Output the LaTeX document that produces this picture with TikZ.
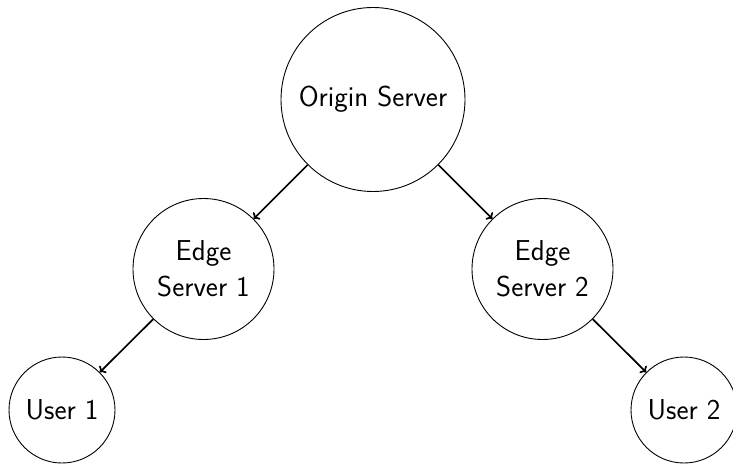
\documentclass[tikz,border=0pt]{standalone}
\usepackage{fontspec}
\usetikzlibrary{arrows.meta}
\begin{document}
\begin{tikzpicture}[x=1pt,y=-1pt,
  srv/.style={circle,draw,line width=0.9pt,inner sep=0pt,align=center,
    font=\sffamily\fontsize{28.8}{36}\selectfont},
  link/.style={line width=1.7pt,-{To[length=5pt,width=10pt]}}]
\useasboundingbox (0,0) rectangle (733,464);
\node[srv,minimum size=184pt] (origin) at (373,99.5) {Origin Server};
\node[srv,minimum size=141pt] (edge1) at (203.5,269) {Edge\\Server 1};
\node[srv,minimum size=141pt] (edge2) at (542.5,269) {Edge\\Server 2};
\node[srv,minimum size=106pt] (user1) at (62,410) {User 1};
\node[srv,minimum size=106pt] (user2) at (684,410) {User 2};
\draw[link] (origin) -- (edge1);
\draw[link] (origin) -- (edge2);
\draw[link] (edge1) -- (user1);
\draw[link] (edge2) -- (user2);
\end{tikzpicture}
\end{document}
